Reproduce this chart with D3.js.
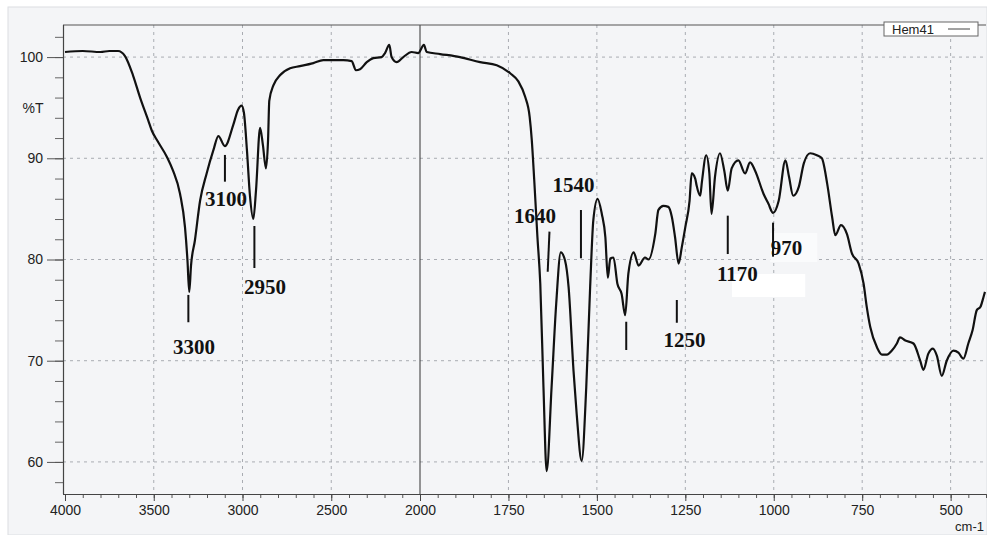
<!DOCTYPE html>
<html>
<head>
<meta charset="utf-8">
<script src="https://cdn.jsdelivr.net/npm/d3@7"></script>
<style>
  body { margin: 0; background: #ffffff; }
  svg { display: block; }
</style>
</head>
<body>
<div id="chart"></div>
<script>
// IR spectrum, wavenumber (cm-1) against transmittance (%T)
var wavenumbers = [4000, 3900, 3800, 3750, 3701, 3662, 3617, 3577, 3532, 3510, 3482, 3425, 3392, 3352, 3324, 3310,
  3300, 3290, 3268, 3239, 3202, 3164, 3136, 3099, 3052, 3025, 3005, 2992, 2975, 2958, 2939, 2924, 2901, 2885,
  2868, 2856, 2849, 2826, 2789, 2732, 2676, 2601, 2545, 2432, 2385, 2361, 2338, 2300, 2263, 2216, 2197, 2173,
  2160, 2132, 2094, 2047, 2010, 1989, 1981, 1943, 1887, 1830, 1783, 1745, 1722, 1703, 1690, 1684, 1677, 1668,
  1660, 1651, 1642, 1628, 1615, 1602, 1590, 1580, 1566, 1557, 1543, 1530, 1519, 1510, 1498, 1486, 1476, 1469,
  1462, 1453, 1442, 1430, 1420, 1411, 1396, 1382, 1364, 1354, 1335, 1326, 1312, 1298, 1288, 1279, 1269, 1260,
  1250, 1238, 1232, 1222, 1218, 1208, 1203, 1191, 1182, 1176, 1166, 1152, 1140, 1130, 1119, 1100, 1081, 1067,
  1053, 1029, 1015, 1002, 986, 967, 957, 945, 929, 915, 897, 878, 864, 849, 835, 826, 810, 793, 779, 760, 746,
  737, 727, 708, 694, 680, 666, 652, 643, 628, 605, 586, 577, 563, 550, 539, 525, 511, 492, 478, 464, 450, 438,
  426, 416, 407, 403];
var transmittance = [100.5, 100.6, 100.5, 100.6, 100.6, 100.1, 98.2, 96.0, 93.8, 92.7, 91.8, 90.1, 88.8, 86.5, 83.2, 79.9,
  76.8, 79.4, 81.9, 85.8, 88.5, 90.8, 92.2, 91.2, 93.3, 94.8, 95.2, 94.5, 90.8, 86.3, 84.0, 86.8, 93.0, 91.3,
  89.0, 91.8, 95.7, 97.2, 98.2, 98.9, 99.1, 99.4, 99.7, 99.7, 99.6, 98.7, 98.8, 99.5, 99.9, 100.0, 100.4, 101.2,
  100.0, 99.5, 100.0, 100.5, 100.4, 101.2, 100.5, 100.3, 100.0, 99.5, 99.2, 98.4, 97.6, 96.1, 94.1, 91.8, 87.8, 82.2,
  77.6, 67.4, 59.1, 67.4, 75.6, 80.7, 79.9, 77.3, 69.0, 64.7, 60.1, 67.4, 77.3, 83.9, 86.0, 84.5, 82.2, 78.2,
  80.1, 80.2, 77.6, 76.6, 74.5, 78.6, 80.7, 79.4, 80.2, 80.0, 82.5, 84.9, 85.3, 85.2, 84.2, 82.2, 79.6, 81.2,
  83.2, 85.8, 88.5, 88.0, 87.3, 86.3, 87.7, 90.3, 88.5, 84.5, 88.2, 90.5, 88.8, 86.8, 89.0, 89.8, 88.5, 89.6,
  88.8, 86.5, 85.5, 84.6, 85.8, 89.8, 88.2, 86.3, 87.2, 89.5, 90.5, 90.3, 90.0, 87.5, 84.2, 82.4, 83.4, 82.5, 80.6, 79.6, 77.6,
  75.3, 73.3, 71.3, 70.6, 70.6, 71.0, 71.7, 72.3, 72.0, 71.7, 70.0, 69.1, 70.7, 71.2, 70.5, 68.5, 70.0, 71.0, 70.8, 70.2, 71.7, 73.0,
  75.0, 75.3, 76.3, 76.8];

var xMajorTicks = [4000, 3500, 3000, 2500, 2000, 1750, 1500, 1250, 1000, 750, 500];
var xGridTicks = [3500, 3000, 2500, 1750, 1500, 1250, 1000, 750, 500];
var yMajorTicks = [100, 90, 80, 70, 60];
var seriesName = "Hem41";

// peak markers: wavenumber of the bar, %T of its ends, label and where it sits
var peakNotes = [
  { text: "3300", wn: 3305, from: 76.5, to: 73.8, lwn: 3273, lt: 70.66 },
  { text: "3100", wn: 3099, from: 90.33, to: 87.69, lwn: 3093, lt: 85.29 },
  { text: "2950", wn: 2933, from: 83.31, to: 79.16, lwn: 2873, lt: 76.59 },
  { text: "1640", wn: 1634, wn2: 1639, from: 82.75, to: 78.79, lwn: 1675, lt: 83.61 },
  { text: "1540", wn: 1545, from: 84.89, to: 80.12, lwn: 1566, lt: 86.67 },
  { text: "", wn: 1417, from: 73.85, to: 71.06 },
  { text: "1250", wn: 1274, from: 76.0, to: 73.75, lwn: 1252, lt: 71.35 },
  { text: "1170", wn: 1130, from: 84.33, to: 80.54, lwn: 1103, lt: 77.88 },
  { text: "970", wn: 1002, from: 83.64, to: 80.28, lwn: 964, lt: 80.44 }
];
// white paste-over patches on the scanned sheet [wn1, wn2, t1, t2, shade]
var patches = [[1118, 911, 78.57, 76.3, "#ffffff"], [1010, 877, 82.62, 79.75, "#fafbfc"]];

function init() {
  var w = 987, h = 535;
  var left = 63, right = 986, top = 25, bottom = 494;

  var svg = d3.select("#chart").append("svg")
    .attr("width", w).attr("height", h);

  // scanned paper
  svg.append("rect").attr("x", 8).attr("y", 7).attr("width", w - 8).attr("height", h - 7)
    .attr("fill", "#f4f5f7").attr("stroke", "#dcdee2");

  // the scale changes at 2000 cm-1
  var x = d3.scaleLinear().domain([4000, 2000, 400]).range([65, 420, right]);
  var y = d3.scaleLinear().domain([56.83, 103.17]).range([bottom, top]);

  // grid
  svg.append("g").selectAll("line").data(xGridTicks).enter().append("line")
    .attr("x1", function(d) { return x(d); }).attr("x2", function(d) { return x(d); })
    .attr("y1", top).attr("y2", bottom)
    .attr("stroke", "#a9acb2").attr("stroke-width", 1).attr("stroke-dasharray", "3,4");
  svg.append("g").selectAll("line").data(yMajorTicks).enter().append("line")
    .attr("x1", left).attr("x2", right)
    .attr("y1", function(d) { return y(d); }).attr("y2", function(d) { return y(d); })
    .attr("stroke", "#a9acb2").attr("stroke-width", 1).attr("stroke-dasharray", "3,4");

  // break line at 2000
  svg.append("line").attr("x1", x(2000)).attr("x2", x(2000)).attr("y1", top).attr("y2", bottom)
    .attr("stroke", "#333").attr("stroke-width", 1);

  // frame top
  svg.append("line").attr("x1", left).attr("x2", right).attr("y1", top).attr("y2", top)
    .attr("stroke", "#555").attr("stroke-width", 1.2);

  // x axis
  var xMinor = d3.range(4000, 2000, -100).concat(d3.range(2000, 399, -50));
  svg.append("g").attr("transform", "translate(0," + bottom + ")")
    .call(d3.axisBottom(x).tickValues(xMinor).tickSize(4).tickFormat(""))
    .call(function(g) { g.select(".domain").remove(); })
    .selectAll("line").attr("stroke", "#555");
  var xAxis = svg.append("g").attr("transform", "translate(0," + bottom + ")")
    .call(d3.axisBottom(x).tickValues(xMajorTicks).tickSize(7).tickPadding(4)
      .tickSizeOuter(0).tickFormat(d3.format("d")));
  xAxis.select(".domain").attr("d", "M" + left + ",0.5H" + right).attr("stroke", "#444").attr("stroke-width", 1.2);
  xAxis.selectAll("line").attr("stroke", "#444");
  xAxis.selectAll("text").attr("fill", "#222")
    .style("font-family", "'Liberation Sans', Arial, sans-serif").style("font-size", "14px");
  svg.append("text").text("cm-1").attr("x", right - 2).attr("y", 531)
    .attr("text-anchor", "end").attr("fill", "#222")
    .style("font-family", "'Liberation Sans', Arial, sans-serif").style("font-size", "13px");

  // y axis
  svg.append("g").attr("transform", "translate(" + left + ",0)")
    .call(d3.axisLeft(y).tickValues(d3.range(58, 103, 2)).tickSize(8).tickFormat(""))
    .call(function(g) { g.select(".domain").remove(); })
    .selectAll("line").attr("stroke", "#666");
  var yAxis = svg.append("g").attr("transform", "translate(" + left + ",0)")
    .call(d3.axisLeft(y).tickValues(yMajorTicks).tickSize(16).tickPadding(4)
      .tickSizeOuter(0).tickFormat(d3.format("d")));
  yAxis.select(".domain").attr("d", "M0.5," + top + "V" + bottom).attr("stroke", "#444").attr("stroke-width", 1.2);
  yAxis.selectAll("line").attr("stroke", "#555");
  yAxis.selectAll("text").attr("fill", "#222")
    .style("font-family", "'Liberation Sans', Arial, sans-serif").style("font-size", "14px");
  svg.append("text").text("%T").attr("x", 33).attr("y", y(95)).attr("dy", "0.35em")
    .attr("text-anchor", "middle").attr("fill", "#222")
    .style("font-family", "'Liberation Sans', Arial, sans-serif").style("font-size", "14px");

  // paste-over patches
  svg.append("g").selectAll("rect").data(patches).enter().append("rect")
    .attr("x", function(d) { return x(d[0]); })
    .attr("y", function(d) { return y(d[2]); })
    .attr("width", function(d) { return x(d[1]) - x(d[0]); })
    .attr("height", function(d) { return y(d[3]) - y(d[2]); })
    .attr("fill", function(d) { return d[4]; });

  // spectrum
  var points = wavenumbers.map(function(d, i) { return [d, transmittance[i]]; });
  var line = d3.line()
    .x(function(d) { return x(d[0]); })
    .y(function(d) { return y(d[1]); })
    .curve(d3.curveMonotoneX);
  svg.append("path").datum(points).attr("d", line)
    .attr("fill", "none").attr("stroke", "#111").attr("stroke-width", 2.2)
    .attr("stroke-linejoin", "round");

  // peak markers
  svg.append("g").selectAll("line").data(peakNotes).enter().append("line")
    .attr("x1", function(d) { return x(d.wn); })
    .attr("x2", function(d) { return x(d.wn2 || d.wn); })
    .attr("y1", function(d) { return y(d.from); })
    .attr("y2", function(d) { return y(d.to); })
    .attr("stroke", "#111").attr("stroke-width", 2);
  svg.append("g").selectAll("text").data(peakNotes.filter(function(d) { return d.text; })).enter().append("text")
    .text(function(d) { return d.text; })
    .attr("x", function(d) { return x(d.lwn); })
    .attr("y", function(d) { return y(d.lt); })
    .attr("text-anchor", "middle").attr("fill", "#111")
    .style("font-family", "'Liberation Serif', 'Times New Roman', serif")
    .style("font-weight", "bold").style("font-size", "21px");

  // legend
  var lg = svg.append("g");
  lg.append("rect").attr("x", 884).attr("y", 22).attr("width", 94).attr("height", 14)
    .attr("fill", "#ffffff").attr("stroke", "#666").attr("stroke-width", 1);
  lg.append("text").text(seriesName).attr("x", 892).attr("y", 33.5).attr("fill", "#222")
    .style("font-family", "'Liberation Sans', Arial, sans-serif").style("font-size", "13px");
  lg.append("line").attr("x1", 948).attr("x2", 970).attr("y1", 29).attr("y2", 29)
    .attr("stroke", "#444").attr("stroke-width", 1);
}
window.onload = init;
</script>
</body>
</html>
